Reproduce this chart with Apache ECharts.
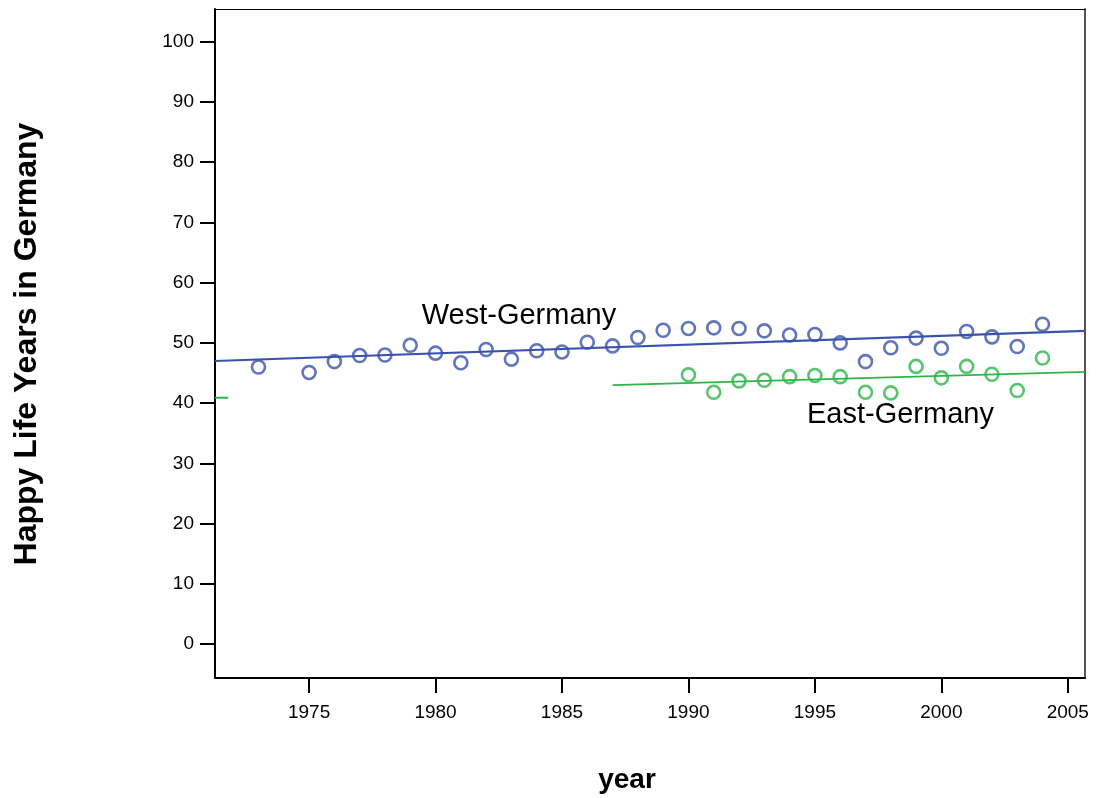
<!DOCTYPE html>
<html>
<head>
<meta charset="utf-8">
<script src="https://cdn.jsdelivr.net/npm/echarts@6/dist/echarts.min.js"></script>
<style>
html,body{margin:0;padding:0;background:#fff;}
#chart{width:1097px;height:798px;}
</style>
</head>
<body>
<div id="chart"></div>
<script>
// ---- data ----
const westYears = [1973,1975,1976,1977,1978,1979,1980,1981,1982,1983,1984,1985,1986,1987,1988,1989,1990,1991,1992,1993,1994,1995,1996,1997,1998,1999,2000,2001,2002,2003,2004];
const westValues = [46.0,45.1,46.9,47.9,48.0,49.6,48.3,46.7,48.9,47.3,48.7,48.5,50.1,49.5,50.9,52.1,52.4,52.5,52.4,52.0,51.3,51.4,50.0,46.9,49.2,50.8,49.1,51.9,51.0,49.4,53.1];
const eastYears = [1990,1991,1992,1993,1994,1995,1996,1997,1998,1999,2000,2001,2002,2003,2004];
const eastValues = [44.7,41.8,43.7,43.8,44.4,44.6,44.4,41.8,41.7,46.1,44.2,46.1,44.8,42.1,47.5];
// fit lines (end points)
const westFitYears = [1971.28, 2005.68];
const westFitValues = [47.0, 52.0];
const eastFitYears = [1987.0, 2005.68];
const eastFitValues = [43.0, 45.2];
const eastStubYears = [1971.28, 1971.8];
const eastStubValues = [40.9, 40.9];
const xTicks = [1975,1980,1985,1990,1995,2000,2005];
const yTicks = [0,10,20,30,40,50,60,70,80,90,100];
const xRange = [1971.28, 2005.68];
const yRange = [-5.6, 105.4];

const zip = (a,b) => a.map((v,i)=>[v,b[i]]);
const BLUE = '#3a52ad';
const GREEN = '#2eb548';
const FONT = '"Liberation Sans", Arial, Helvetica, sans-serif';

const chart = echarts.init(document.getElementById('chart'), null, {renderer:'canvas'});
chart.setOption({
  animation:false,
  backgroundColor:'#fff',
  grid:{left:215, right:12, top:9, bottom:120, containLabel:false},
  xAxis:[{
    type:'value', min:xRange[0], max:xRange[1],
    axisLine:{show:true, onZero:false, lineStyle:{color:'#000', width:2}},
    axisTick:{show:true, length:15, inside:false, lineStyle:{color:'#000', width:2}, customValues:xTicks},
    axisLabel:{show:true, margin:25, color:'#000', fontSize:19, fontFamily:FONT, customValues:xTicks, formatter:v=>String(Math.round(v))},
    splitLine:{show:false}
  },{
    type:'value', position:'top', min:xRange[0], max:xRange[1],
    axisLine:{show:true, onZero:false, lineStyle:{color:'#000', width:1}},
    axisTick:{show:false}, axisLabel:{show:false}, splitLine:{show:false}
  }],
  yAxis:[{
    type:'value', min:yRange[0], max:yRange[1],
    axisLine:{show:true, onZero:false, lineStyle:{color:'#000', width:2}},
    axisTick:{show:true, length:15, inside:false, lineStyle:{color:'#000', width:2}, customValues:yTicks},
    axisLabel:{show:true, margin:21, color:'#000', fontSize:19, fontFamily:FONT, customValues:yTicks, formatter:v=>String(Math.round(v))},
    splitLine:{show:false}
  },{
    type:'value', position:'right', min:yRange[0], max:yRange[1],
    axisLine:{show:true, onZero:false, lineStyle:{color:'#555', width:2}},
    axisTick:{show:false}, axisLabel:{show:false}, splitLine:{show:false}
  }],
  series:[
    {type:'line', name:'West fit', data:zip(westFitYears, westFitValues), symbol:'none', clip:true,
     lineStyle:{color:BLUE, width:2.2}, silent:true, z:2},
    {type:'line', name:'East fit', data:zip(eastFitYears, eastFitValues), symbol:'none', clip:true,
     lineStyle:{color:GREEN, width:1.8}, silent:true, z:2},
    {type:'line', name:'East stub', data:zip(eastStubYears, eastStubValues), symbol:'none', clip:true,
     lineStyle:{color:GREEN, width:2}, silent:true, z:2},
    {type:'scatter', name:'West-Germany', data:zip(westYears, westValues), symbol:'circle', symbolSize:13,
     itemStyle:{color:'rgba(255,255,255,0)', borderColor:BLUE, borderWidth:2.6}, z:3},
    {type:'scatter', name:'East-Germany', data:zip(eastYears, eastValues), symbol:'circle', symbolSize:13,
     itemStyle:{color:'rgba(255,255,255,0)', borderColor:GREEN, borderWidth:2.6}, z:3}
  ],
  graphic:[
    {type:'text', x:421.7, y:316, style:{text:'West-Germany', fill:'#000', font:'29px '+FONT, textAlign:'left', textVerticalAlign:'middle'}},
    {type:'text', x:807, y:415, style:{text:'East-Germany', fill:'#000', font:'29px '+FONT, textAlign:'left', textVerticalAlign:'middle'}},
    {type:'text', x:627, y:780, style:{text:'year', fill:'#000', font:'bold 28px '+FONT, textAlign:'center', textVerticalAlign:'middle'}},
    {type:'text', x:27, y:344, rotation:Math.PI/2, style:{text:'Happy Life Years in Germany', fill:'#000', font:'bold 32px '+FONT, textAlign:'center', textVerticalAlign:'middle'}}
  ]
});
</script>
</body>
</html>
